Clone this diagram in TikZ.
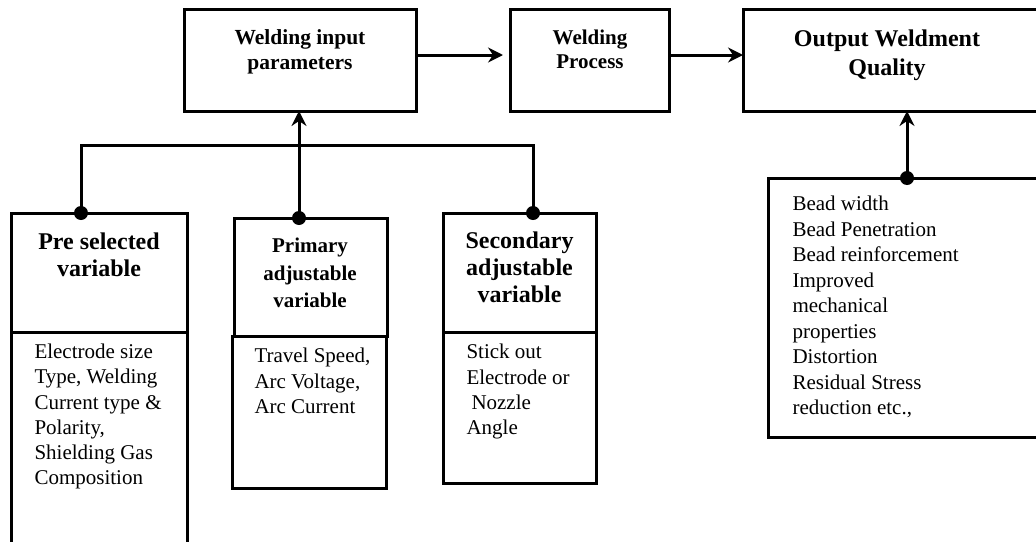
\documentclass[tikz,border=0pt]{standalone}
\usepackage{fontspec}
\setmainfont{Liberation Serif}
\usetikzlibrary{arrows.meta}

\begin{document}
\begin{tikzpicture}[x=1pt, y=-1pt, line width=3pt,
    arr/.style={-{Stealth[length=15pt,width=15pt,inset=5pt]}},
    heading/.style 2 args={anchor=north, align=center, inner sep=0pt, font=\bfseries\fontsize{#1}{#2}\selectfont},
    items/.style={anchor=north west, align=left, inner sep=0pt, font=\fontsize{21}{#1}\selectfont}]
      \tikzstyle{box}=[draw, rectangle, anchor=north west, inner sep=0pt, outer sep=0pt]
      \useasboundingbox (0,0) rectangle (1036,541);
      \clip (0,0) rectangle (1036,541);
      \node[box, minimum width=232, minimum height=102] (wip) at (184,9) {};
      \node[box, minimum width=159, minimum height=102] (wp) at (510,9) {};
      \node[box, minimum width=300, minimum height=102] (owq) at (743,9) {};
      \node[box, minimum width=176, minimum height=119] (prehead) at (11,213) {};
      \node[box, minimum width=176, minimum height=225] (prebody) at (11,332) {};
      \node[box, minimum width=153, minimum height=118] (primhead) at (234,218) {};
      \node[box, minimum width=154, minimum height=152] (primbody) at (232,336) {};
      \node[box, minimum width=153, minimum height=119] (sechead) at (443,213) {};
      \node[box, minimum width=153, minimum height=151] (secbody) at (443,332) {};
      \node[box, minimum width=280, minimum height=259] (outlist) at (768,178) {};
      \node[heading={21.5}{25}] (wiptext) at (300,28) {Welding input\\parameters};
      \node[heading={21}{24}] (wptext) at (590,28.5) {Welding\\Process};
      \node[heading={24}{29}] (owqtext) at (887,28.5) {Output Weldment\\Quality};
      \node[heading={24}{27}] (pretitle) at (99,231.5) {Pre selected\\variable};
      \node[heading={21}{27.5}] (primtitle) at (310,236.5) {Primary\\adjustable\\variable};
      \node[heading={24}{27}] (sectitle) at (519.5,230.5) {Secondary\\adjustable\\variable};
      \node[items={25.2}] (pretext) at (33,342.7) {Electrode size\\Type, Welding\\Current type \&\\Polarity,\\Shielding Gas\\Composition};
      \node[items={25.5}] (primtext) at (253,346.7) {Travel Speed,\\Arc Voltage,\\Arc Current};
      \node[items={25.3}] (sectext) at (465,342.7) {Stick out\\Electrode or\\\hspace{5pt}Nozzle\\Angle};
      \node[items={25.5}] (outtext) at (791,194.7) {Bead width\\Bead Penetration\\Bead reinforcement\\Improved\\mechanical\\properties\\Distortion\\Residual Stress\\reduction etc.,};
      \coordinate (predot) at (81,213);
      \coordinate (primdot) at (299,218);
      \coordinate (secdot) at (533,213);
      \coordinate (outdot) at (907,178);
      \coordinate (bus) at (299,145);
      \draw (predot) |- (bus) -| (secdot);
      \draw[arr] (primdot) -- (primdot |- wip.south);
      \draw[arr] ([yshift=5pt]wip.east) -- ([yshift=5pt, xshift=-7pt]wp.west);
      \draw[arr] ([yshift=5pt]wp.east) -- ([yshift=5pt]owq.west);
      \draw[arr] (outdot) -- (outdot |- owq.south);
      \foreach \d in {predot, primdot, secdot, outdot}
        \fill (\d) circle (7pt);
    \end{tikzpicture}
\end{document}
